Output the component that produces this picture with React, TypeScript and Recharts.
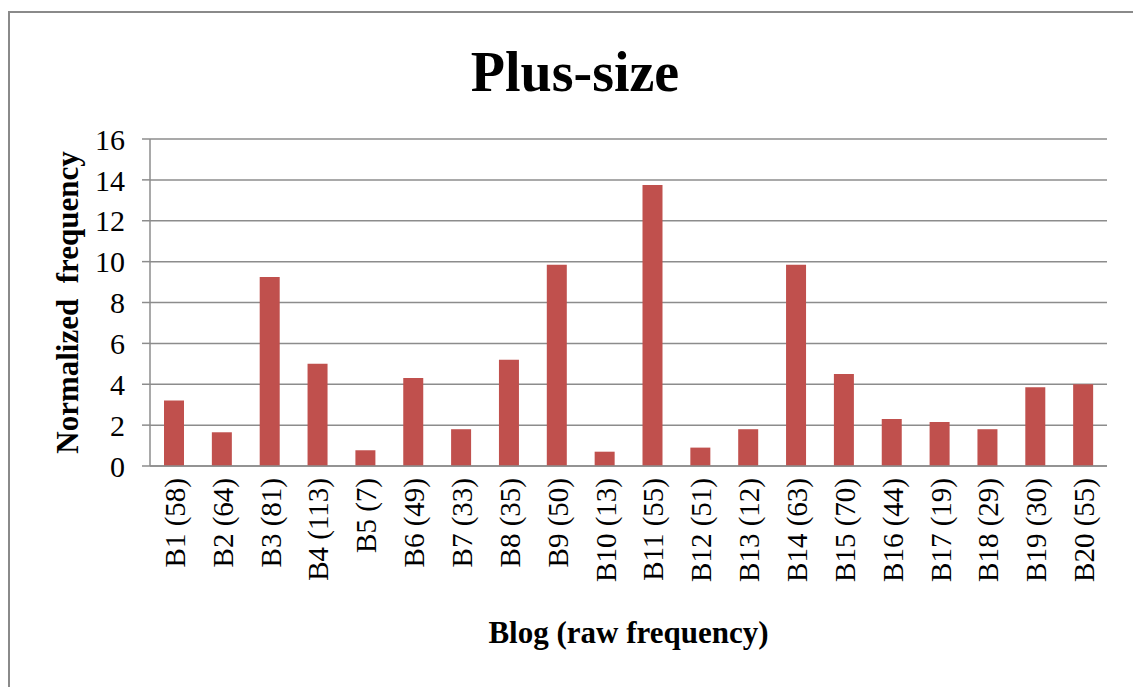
import { BarChart, Bar, XAxis, YAxis, CartesianGrid, Label } from 'recharts';

const blogs = ['B1', 'B2', 'B3', 'B4', 'B5', 'B6', 'B7', 'B8', 'B9', 'B10', 'B11', 'B12', 'B13', 'B14', 'B15', 'B16', 'B17', 'B18', 'B19', 'B20'];
const rawFrequency = [58, 64, 81, 113, 7, 49, 33, 35, 50, 13, 55, 51, 12, 63, 70, 44, 19, 29, 30, 55];
const normalizedFrequency = [3.2, 1.65, 9.25, 5.0, 0.77, 4.3, 1.8, 5.2, 9.85, 0.7, 13.75, 0.9, 1.8, 9.85, 4.5, 2.3, 2.15, 1.8, 3.85, 4.0];
const yTicks = [0, 2, 4, 6, 8, 10, 12, 14, 16];

const data = blogs.map((b, i) => ({
    label: `${b} (${rawFrequency[i]})`,
    value: normalizedFrequency[i],
}));

const serif = '"Liberation Serif", "Times New Roman", serif';

function RotatedTick({ x, y, payload }: any) {
    return (
        <text
            transform={`translate(${x + 1},${y}) rotate(-90)`}
            textAnchor="end"
            dominantBaseline="central"
            fontFamily={serif}
            fontSize={29}
            fill="#000"
        >
            {payload.value}
        </text>
    );
}

function YTitle({ viewBox }: any) {
    const cy = viewBox.y + viewBox.height / 2;
    return (
        <text
            transform={`translate(67,${cy}) rotate(-90)`}
            textAnchor="middle"
            dominantBaseline="central"
            fontFamily={serif}
            fontSize={31}
            fontWeight="bold"
            fill="#000"
            style={{ whiteSpace: 'pre' }}
        >
            Normalized  frequency
        </text>
    );
}

export default function App() {
    return (
        <div style={{ position: 'absolute', left: 0, top: 0, width: 1133, height: 687, background: '#fff', overflow: 'hidden' }}>
            <div style={{ position: 'absolute', left: 8, top: 11, right: -4, bottom: -4, borderTop: '2px solid #8a8a8a', borderLeft: '2px solid #8a8a8a' }} />
            <div style={{ position: 'absolute', left: 0, top: 40, width: 1150, textAlign: 'center', fontFamily: serif, fontWeight: 'bold', fontSize: 56, lineHeight: '64px', color: '#000' }}>
                Plus-size
            </div>
            <BarChart
                width={1133}
                height={687}
                data={data}
                margin={{ top: 139, right: 26, left: 0, bottom: 0 }}
                barCategoryGap={0}
                style={{ position: 'absolute', left: 0, top: 0 }}
            >
                <CartesianGrid vertical={false} stroke="#8c8c8c" strokeWidth={1.5} />
                <XAxis
                    dataKey="label"
                    height={221}
                    interval={0}
                    tickLine={false}
                    tickSize={0}
                    tickMargin={12}
                    stroke="#8c8c8c"
                    strokeWidth={1.5}
                    tick={<RotatedTick />}
                >
                    <Label
                        value="Blog (raw frequency)"
                        position="insideBottom"
                        offset={44}
                        style={{ fontFamily: serif, fontSize: 31, fontWeight: 'bold', fill: '#000' }}
                    />
                </XAxis>
                <YAxis
                    width={150}
                    domain={[0, 16]}
                    ticks={yTicks}
                    interval={0}
                    tickSize={8}
                    tickMargin={17}
                    stroke="#8c8c8c"
                    strokeWidth={1.5}
                    tick={{ fontFamily: serif, fontSize: 30, fill: '#000' }}
                >
                    <Label content={<YTitle />} />
                </YAxis>
                <Bar dataKey="value" fill="#C0504D" barSize={20} isAnimationActive={false} />
            </BarChart>
        </div>
    );
}
